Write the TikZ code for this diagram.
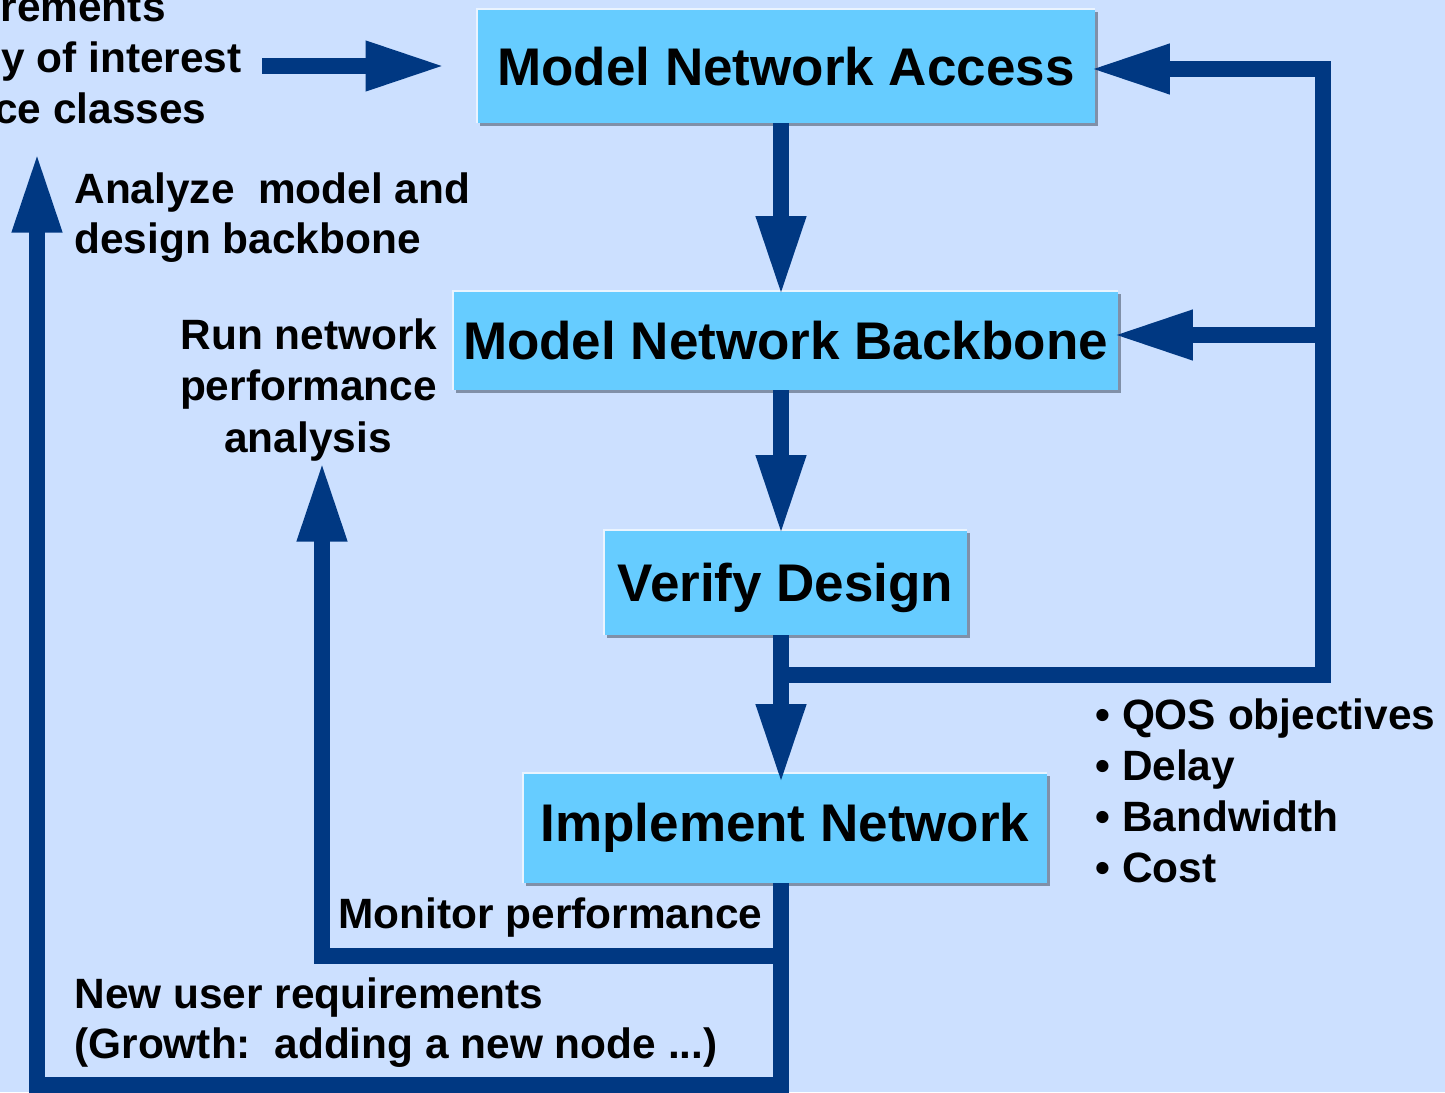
\documentclass[tikz,border=0pt]{standalone}
\usepackage{fontspec}
\setmainfont{Liberation Sans}
\usetikzlibrary{arrows.meta,shadows}
\definecolor{bgc}{RGB}{204,224,255}
\definecolor{boxc}{RGB}{102,204,255}
\definecolor{flowc}{RGB}{0,56,130}
\definecolor{shadc}{RGB}{128,144,168}
\definecolor{hlc}{RGB}{234,244,255}

\begin{document}
\begin{tikzpicture}[x=0.5pt,y=-0.5pt,
  box/.style={rectangle, fill=boxc, inner sep=0pt, text height=19pt, text depth=0pt,
    font=\bfseries\fontsize{26.5}{32}\selectfont,
    drop shadow={shadow xshift=1.5pt, shadow yshift=-1.5pt, fill=shadc, opacity=1}},
  hl/.style={draw=hlc, line width=1pt},
  lbl/.style={inner sep=0pt, font=\bfseries\fontsize{21.2}{25.5}\selectfont},
  flow/.style={draw=flowc, line width=8pt, line join=miter, shorten >=-2.75pt,
    -{Triangle[length=40pt,width=23pt]}}]

% canvas
\useasboundingbox (0,0) rectangle (1445,1092);
\fill[bgc] (0,0) rectangle (1445,1092);

% process boxes
\node[box, minimum width=309pt, minimum height=57pt] (acc) at (786,66) {Model Network Access};
\node[box, minimum width=332.5pt, minimum height=49.5pt] (bb) at (785.5,340.5) {Model Network Backbone};
\node[box, minimum width=181.5pt, minimum height=52.5pt] (vd) at (785.5,582.5) {Verify Design};
\node[box, minimum width=262pt, minimum height=55pt] (impl) at (785,828) {\raisebox{3pt}{Implement Network}};
\foreach \b in {acc,bb,vd,impl}
  \draw[hl] (\b.south west) |- (\b.north east);

% routing points
\coordinate (sp) at (781,0);
\coordinate (fbStart) at (781,675);
\coordinate (fbTop) at (1323,69);
\coordinate (fbMid) at (1323,335);
\coordinate (loopL) at (37,1085);
\coordinate (loopTip) at (37,158);
\coordinate (monJ) at (781,956);
\coordinate (monTip) at (322,467);
\coordinate (inStart) at (262,66);
\coordinate (inTip) at (440,66);

% main flow
\draw[flow] (acc.south -| sp) -- (bb.north -| sp);
\draw[flow] (bb.south -| sp) -- (vd.north -| sp);
\draw[flow] (vd.south -| sp) -- ([yshift=-3pt]impl.north -| sp);

% feedback from verification
\draw[flow] (fbStart) -| (fbTop) -- (acc.east |- fbTop);
\draw[flow] (fbMid) -- (bb.east |- fbMid);

% loops after implementation
\draw[flow] (impl.south -| sp) |- (loopL) -- (loopTip);
\draw[flow] (monJ) -| (monTip);

% incoming requirements
\draw[flow] (inStart) -- (inTip);

% labels
\node[lbl, anchor=base east] (req1) at (166,21) {rements};
\node[lbl, anchor=base east] (req2) at (242,72) {y of interest};
\node[lbl, anchor=base east] (req3) at (207,123) {ce classes};

\node[lbl, anchor=base west] (ana1) at (74,203) {Analyze~~model and};
\node[lbl, anchor=base west] (ana2) at (74,253) {design backbone};

\node[lbl, anchor=base] (run1) at (309,349) {Run network};
\node[lbl, anchor=base] (run2) at (308.5,400) {performance};
\node[lbl, anchor=base] (run3) at (308,452) {analysis};

\node[lbl, anchor=base west] (q1) at (1095,729) {• QOS objectives};
\node[lbl, anchor=base west] (q2) at (1095,780) {• Delay};
\node[lbl, anchor=base west] (q3) at (1095,831) {• Bandwidth};
\node[lbl, anchor=base west] (q4) at (1095,882) {• Cost};

\node[lbl, anchor=base west] (mon) at (338,928) {Monitor performance};
\node[lbl, anchor=base west] (new1) at (74,1008) {New user requirements};
\node[lbl, anchor=base west] (new2) at (74,1058) {(Growth:~~adding a new node ...)};
\end{tikzpicture}
\end{document}
